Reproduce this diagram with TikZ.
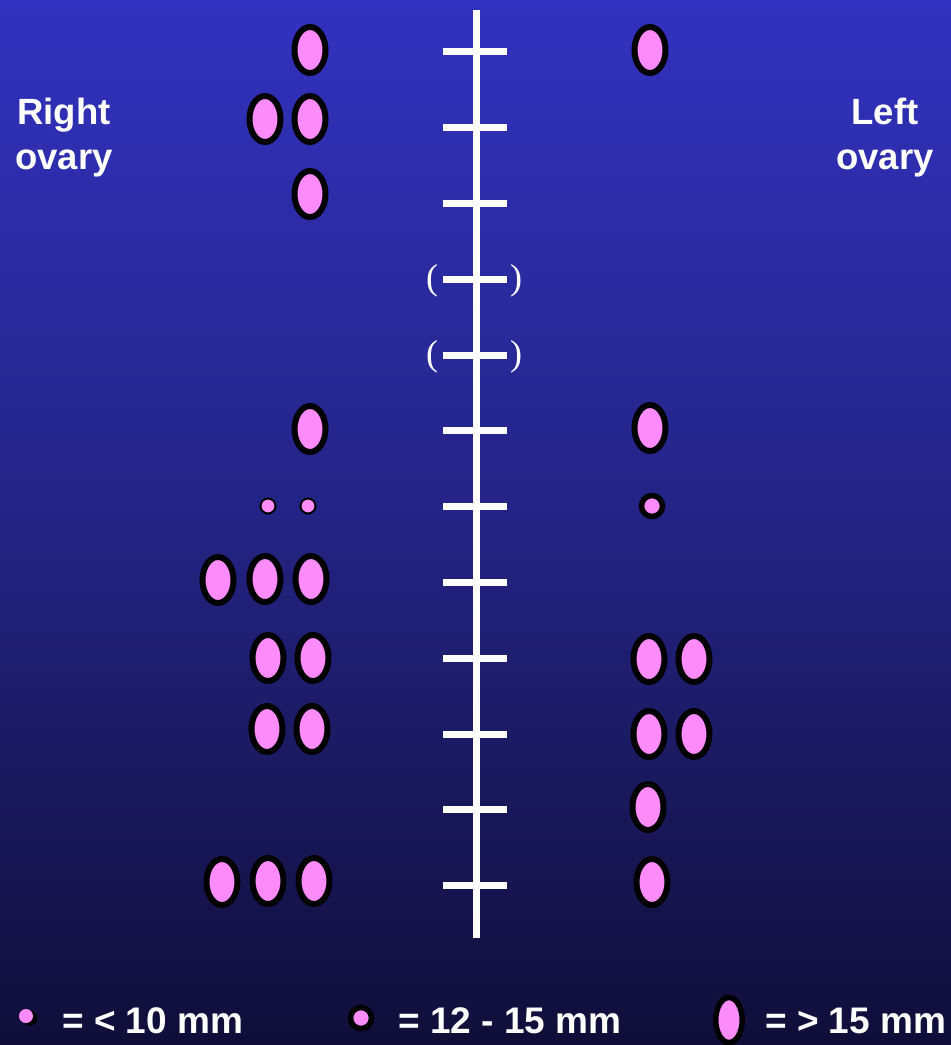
\documentclass[tikz,border=0pt]{standalone}
\usepackage{fontspec}
\setmainfont{Liberation Sans}
\newfontfamily\serifpar{Liberation Serif}
\usetikzlibrary{shapes.geometric}
\definecolor{bgtop}{RGB}{50,50,192}
\definecolor{bgmid}{RGB}{36,36,135}
\definecolor{bgbot}{RGB}{16,14,56}
\definecolor{folpink}{RGB}{255,140,250}
\tikzset{
  bigf/.style={ellipse, draw=black, fill=folpink, line width=6pt, inner sep=0pt, minimum width=31pt, minimum height=46pt},
  midf/.style={circle, draw=black, fill=folpink, line width=5.5pt, inner sep=0pt, minimum size=21pt},
  smallf/.style={circle, draw=black, fill=folpink, line width=2pt, inner sep=0pt, minimum size=15pt},
  lbl/.style={text=white, font=\bfseries\fontsize{36.5}{45}\selectfont, align=center, inner sep=0pt},
  legtxt/.style={text=white, font=\bfseries\fontsize{37}{40}\selectfont, anchor=base west, inner sep=0pt},
  paren/.style={text=white, font=\serifpar\fontsize{36}{38}\selectfont, inner sep=0pt},
  axisline/.style={white, line width=7pt},
}
\begin{document}
\begin{tikzpicture}[x=1pt,y=-1pt]
\useasboundingbox (0,0) rectangle (951,1045);
\shade[top color=bgtop, bottom color=bgmid] (0,0) rectangle (951,500);
\shade[top color=bgmid, bottom color=bgbot] (0,500) rectangle (951,1045);
% axis
\coordinate (atop) at (476,10);
\coordinate (abot) at (476,938);
\draw[axisline] (atop) -- (abot);
\foreach \i/\y in {1/51,2/127,3/203,4/279,5/355,6/430,7/506,8/582,9/658,10/734,11/809,12/885}{
  \coordinate (tl\i) at (443,\y);
  \coordinate (tr\i) at (507,\y);
  \draw[axisline] (tl\i) -- (tr\i);
}
\node[paren] (p4l) at (432,281) {(};
\node[paren] (p4r) at (516,281) {)};
\node[paren] (p5l) at (432,357) {(};
\node[paren] (p5r) at (516,357) {)};
% labels
\node[lbl] (rov) at (64,138) {Right\\ovary};
\node[lbl] (lov) at (885,138) {Left\\ovary};
% right ovary follicles
\node[bigf] (r1a) at (310,50) {};
\node[bigf] (r2a) at (265,119) {};
\node[bigf] (r2b) at (310,119) {};
\node[bigf] (r3a) at (310,194) {};
\node[bigf] (r6a) at (310,429) {};
\node[smallf] (r7a) at (268,506) {};
\node[smallf] (r7b) at (308,506) {};
\node[bigf] (r8a) at (218,580) {};
\node[bigf] (r8b) at (265,579) {};
\node[bigf] (r8c) at (311,579) {};
\node[bigf] (r9a) at (268,658) {};
\node[bigf] (r9b) at (313,658) {};
\node[bigf] (r10a) at (267,729) {};
\node[bigf] (r10b) at (312,729) {};
\node[bigf] (r12a) at (222,882) {};
\node[bigf] (r12b) at (268,881) {};
\node[bigf] (r12c) at (314,881) {};
% left ovary follicles
\node[bigf] (l1a) at (650,50) {};
\node[bigf] (l6a) at (650,428) {};
\node[midf] (l7a) at (652,506) {};
\node[bigf] (l9a) at (649,659) {};
\node[bigf] (l9b) at (694,659) {};
\node[bigf] (l10a) at (649,734) {};
\node[bigf] (l10b) at (694,734) {};
\node[bigf] (l11a) at (648,807) {};
\node[bigf] (l12a) at (652,882) {};
% legend
\fill[black] (30,1018) circle (7.5pt);
\node[circle, fill=folpink, inner sep=0pt, minimum size=14pt] (k1) at (26,1016) {};
\node[legtxt] (k1t) at (62,1033) {= < 10 mm};
\node[midf] (k2) at (361,1018) {};
\node[legtxt] (k2t) at (398,1033) {= 12 - 15 mm};
\node[bigf, line width=5.5pt, minimum width=26.5pt, minimum height=45pt] (k3) at (729,1020) {};
\node[legtxt] (k3t) at (765,1033) {= > 15 mm};
\end{tikzpicture}
\end{document}
